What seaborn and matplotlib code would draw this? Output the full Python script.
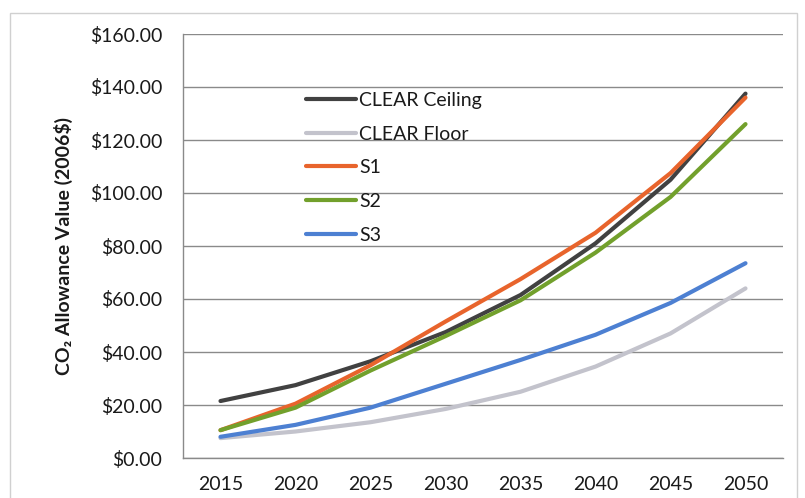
import matplotlib
matplotlib.use("Agg")
import matplotlib.pyplot as plt
from matplotlib.patches import Rectangle
from matplotlib.ticker import FuncFormatter, FixedLocator
import pandas as pd
import seaborn as sns

years = ["2015", "2020", "2025", "2030", "2035", "2040", "2045", "2050"]
clear_ceiling = [21.5, 27.5, 36.5, 47.5, 61.5, 81.0, 105.0, 137.5]
clear_floor = [7.5, 10.0, 13.5, 18.5, 25.0, 34.5, 47.0, 64.0]
s1 = [10.5, 20.5, 35.0, 51.5, 67.5, 85.0, 107.5, 136.0]
s2 = [10.5, 19.0, 33.0, 46.0, 59.5, 77.5, 98.5, 126.0]
s3 = [8.0, 12.5, 19.0, 28.0, 37.0, 46.5, 58.5, 73.5]

series_names = ["CLEAR Ceiling", "CLEAR Floor", "S1", "S2", "S3"]
series_values = [clear_ceiling, clear_floor, s1, s2, s3]
colors = ["#414141", "#c3c3cc", "#e8642c", "#72a02c", "#4d80d2"]

df = pd.DataFrame(
    [(y, name, v) for name, vals in zip(series_names, series_values)
     for y, v in zip(years, vals)],
    columns=["year", "series", "value"],
)

sns.set_theme(style="white")
plt.rcParams["font.family"] = ["Lato", "DejaVu Sans"]

fig = plt.figure(figsize=(8.05, 4.98), dpi=100)
ax = fig.add_axes([183 / 805, 1 - 458 / 498, 600 / 805, 424 / 498])

sns.lineplot(data=df, x="year", y="value", hue="series", hue_order=series_names,
             palette=colors, linewidth=3.0, sort=False, ax=ax, legend=True)

ax.set_xlim(-0.5, len(years) - 0.5)
ax.set_ylim(0, 160)
ax.yaxis.set_major_locator(FixedLocator(range(0, 161, 20)))
ax.yaxis.set_major_formatter(FuncFormatter(lambda v, _: f"${v:,.2f}"))
ax.xaxis.set_minor_locator(FixedLocator([i - 0.5 for i in range(len(years) + 1)]))

ax.grid(axis="y", color="#8a8a8a", linewidth=1.0)
ax.set_axisbelow(True)
for side in ("top", "right"):
    ax.spines[side].set_visible(False)
for side in ("left", "bottom"):
    ax.spines[side].set_color("#8a8a8a")
    ax.spines[side].set_linewidth(1.0)

ax.tick_params(axis="x", which="major", length=0, pad=13, labelsize=14, colors="#1a1a1a")
ax.tick_params(axis="x", which="minor", length=6, width=1, color="#8a8a8a", direction="out")
ax.tick_params(axis="y", length=7, width=1, color="#8a8a8a", direction="out",
               pad=8, labelsize=14, labelcolor="#1a1a1a")

ax.set_xlabel("")
ax.set_ylabel("CO₂ Allowance Value (2006$)", fontsize=14, fontweight="bold",
              color="#1a1a1a", labelpad=12)

leg = ax.legend(loc="upper left", bbox_to_anchor=((298 - 183) / 600, (458 - 84) / 424),
                frameon=False, fontsize=14, handlelength=2.6, handletextpad=0.15,
                labelspacing=0.86, borderaxespad=0)
for text in leg.get_texts():
    text.set_color("#1a1a1a")
for line in leg.get_lines():
    line.set_linewidth(3.0)

fig.patches.append(Rectangle((10 / 805, -0.05), 787 / 805, 1.05 - 13 / 498,
                             transform=fig.transFigure, fill=False,
                             edgecolor="#d0d0d0", linewidth=1.0))

fig.savefig("out.png", dpi=100)
